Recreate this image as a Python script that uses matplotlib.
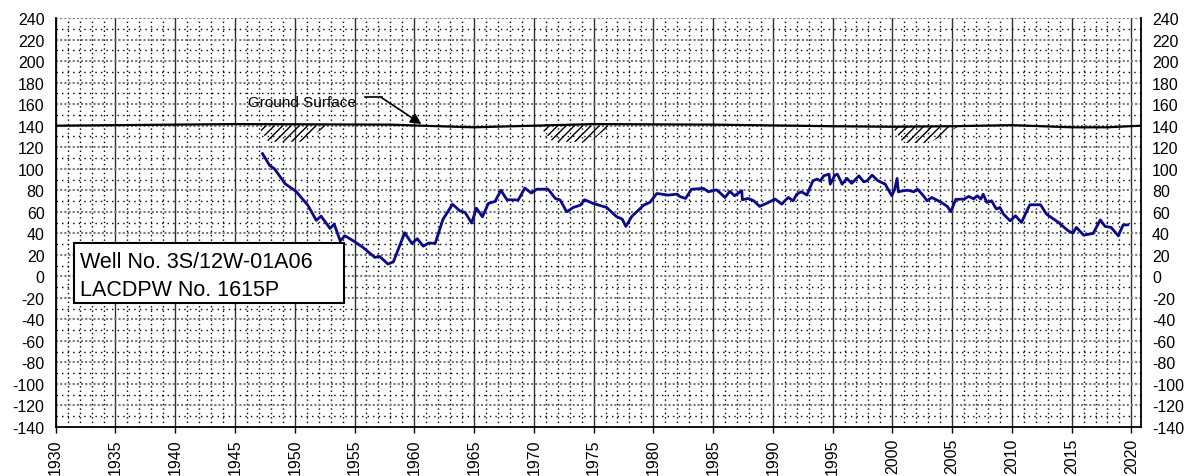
import matplotlib
matplotlib.use("Agg")
import matplotlib.pyplot as plt
from matplotlib.patches import Polygon, Rectangle
import numpy as np

plt.rcParams['font.family'] = ['Liberation Sans', 'DejaVu Sans']

# water level (ft)
years = [1947.3, 1947.9, 1948.3, 1949.2, 1950.1, 1951.1, 1951.8, 1952.2, 1952.95, 1953.3,
         1953.8, 1954.2, 1954.9, 1955.7, 1956.7, 1957.1, 1957.8, 1958.25, 1959.2, 1959.8,
         1960.25, 1960.75, 1961.2, 1961.75, 1962.4, 1963.2, 1963.8, 1964.25, 1964.8, 1965.2,
         1965.7, 1966.2, 1966.75, 1967.25, 1967.75, 1968.7, 1969.25, 1969.8, 1970.25, 1971.2,
         1971.8, 1972.2, 1972.75, 1973.3, 1973.9, 1974.25, 1974.9, 1976.1, 1976.9, 1977.4,
         1977.7, 1978.2, 1979.2, 1979.7, 1980.3, 1981.25, 1982.0, 1982.2, 1982.7, 1983.2,
         1984.2, 1984.6, 1985.3, 1986.0, 1986.4, 1986.8, 1987.4, 1987.45, 1987.95, 1988.4,
         1988.9, 1989.5, 1990.2, 1990.75, 1991.0, 1991.3, 1991.7, 1992.0, 1992.4, 1992.85,
         1993.35, 1993.7, 1994.0, 1994.25, 1994.7, 1994.8, 1995.2, 1995.4, 1995.8, 1996.2,
         1996.6, 1997.2, 1997.6, 1997.9, 1998.3, 1998.8, 1999.4, 1999.95, 2000.2, 2000.4,
         2000.5, 2000.9, 2001.3, 2001.8, 2002.1, 2002.6, 2002.9, 2003.3, 2003.7, 2004.1,
         2004.6, 2004.9, 2005.3, 2006.0, 2006.4, 2006.8, 2007.1, 2007.4, 2007.6, 2007.9,
         2008.3, 2008.7, 2009.0, 2009.3, 2009.85, 2010.3, 2010.8, 2011.5, 2012.4, 2012.9,
         2013.9, 2014.7, 2015.1, 2015.4, 2016.0, 2016.8, 2017.4, 2017.8, 2018.3, 2018.9,
         2019.3, 2019.7]
levels = [114, 103, 100, 86, 79, 66, 52, 56, 44.5, 48.6,
          33, 37.7, 33, 27, 17.6, 18.5, 11.4, 13.5, 40.5, 30.5,
          35, 28, 31, 30.6, 53, 67, 61, 59.4, 49.5, 63.4,
          55.3, 67.8, 69.6, 80, 71.2, 71, 82, 77.4, 81, 81,
          72.4, 71, 60, 64, 66.2, 71.2, 68, 64, 55.7, 53.2,
          46.4, 55.7, 66.2, 68.7, 77, 75.5, 76.4, 74.3, 72.4, 81,
          81.7, 78.6, 80.4, 73.3, 79, 74.9, 79.5, 71.2, 72.4, 70.2,
          65, 68, 71.8, 67.1, 70.2, 73.3, 70.2, 76.4, 78.6, 75.5,
          88.8, 90.4, 88.8, 93.4, 95, 85.7, 94.1, 95, 85.7, 91,
          86.4, 93.4, 87.9, 88.8, 94.1, 88.8, 85.7, 74.9, 81, 91,
          78.6, 79.5, 80, 78.6, 81, 74.9, 70.2, 73.3, 71, 68.7,
          65, 60, 71.5, 71.8, 74.3, 72, 74.9, 71.8, 76.4, 68.7,
          70.2, 62.5, 64, 57.8, 51.6, 56.3, 50.1, 66.5, 66.5, 57.8,
          50.1, 42.4, 40.2, 45.5, 38.3, 39.9, 52.5, 46.4, 45.5, 37.7,
          47.6, 47.9]

# ground surface elevation
gs_years = [1930, 1945, 1958, 1962, 1965, 1970, 1975, 1985, 1995, 2000, 2005, 2010, 2015, 2018, 2020.8]
gs_elev = [140, 141.5, 141, 139.5, 138.5, 140, 141.5, 141, 139.5, 139, 139.5, 140.5, 138.5, 138.5, 140]

# hatched soil patches under the ground line
hatch_patches = [
    [(1946.9, 140), (1952.8, 140), (1950.5, 125), (1947.8, 125)],
    [(1970.4, 140), (1976.4, 140), (1974.7, 125), (1971.6, 125)],
    [(2000.0, 139), (2005.5, 139), (2003.1, 124), (2000.9, 124)],
]

fig = plt.figure(figsize=(12.01, 4.77), dpi=100)
ax = fig.add_axes([0.0464, 0.1027, 0.9036, 0.8573])
ax.set_xlim(1930, 2020.8)
ax.set_ylim(-140, 240)

# grid
for yr in range(1930, 2021):
    if yr % 5 == 0:
        ax.axvline(yr, color='#303030', lw=1.0, zorder=1)
    else:
        ax.axvline(yr, color='black', lw=1.0, ls=(0, (1, 2.2)), zorder=1)
for v in range(-130, 241, 10):
    if v % 20 == 0:
        ax.axhline(v, color='#7a7a7a', lw=1.5, ls=(0, (1, 1)), zorder=1)
    else:
        ax.axhline(v, color='black', lw=1.0, ls=(0, (1, 3)), zorder=1)

for pts in hatch_patches:
    ax.add_patch(Polygon(pts, closed=True, fill=False, hatch='////',
                         edgecolor='black', lw=0, zorder=2))

ax.plot(gs_years, gs_elev, color='black', lw=1.6, zorder=3)
ax.plot(years, levels, color='#0a0a8a', lw=2.0, zorder=4)

# ground surface label with bent arrow
ax.text(1950.6, 162, 'Ground Surface', fontsize=11, ha='center', va='center', zorder=5)
ax.plot([1955.9, 1957.3], [166.5, 166.5], color='black', lw=1.2, zorder=5)
ax.annotate('', xy=(1960.6, 141.5), xytext=(1957.2, 166.5),
            arrowprops=dict(arrowstyle='-|>', color='black', lw=1.2,
                            mutation_scale=16, shrinkA=0, shrinkB=0), zorder=5)

# well id box
ax.add_patch(Rectangle((1931.5, -24.9), 22.6, 55.8, facecolor='white',
                       edgecolor='black', lw=1.5, zorder=6))
ax.text(1932.0, 14.0, 'Well No. 3S/12W-01A06', fontsize=15.5, ha='left', va='center', zorder=7)
ax.text(1932.0, -12.0, 'LACDPW No. 1615P', fontsize=15.5, ha='left', va='center', zorder=7)

ax.set_xticks(range(1930, 2021, 5))
ax.set_xticklabels([str(y) for y in range(1930, 2021, 5)], rotation=90, fontsize=11.5)
ax.set_yticks(range(-140, 241, 20))
ax.set_yticklabels([str(v) for v in range(-140, 241, 20)], fontsize=11.5)
ax.tick_params(axis='y', length=0, labelright=True, pad=8)
ax.tick_params(axis='x', length=4, width=1, direction='out', pad=4)

for s in ['left', 'right', 'bottom']:
    ax.spines[s].set_linewidth(1.3)
    ax.spines[s].set_zorder(8)
ax.spines['top'].set_visible(False)

fig.savefig('out.png', dpi=100)
